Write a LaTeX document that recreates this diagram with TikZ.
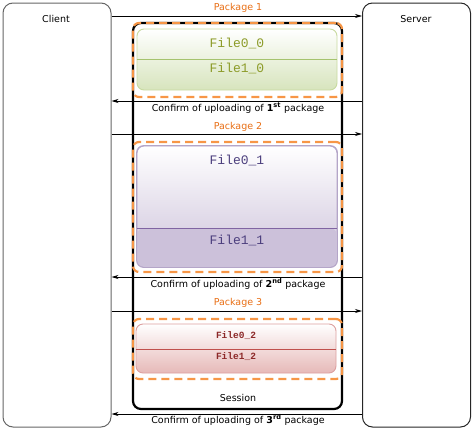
\documentclass[tikz,border=0pt]{standalone}
\usepackage{fontspec}
\setmainfont{DejaVu Sans}
\newfontfamily\monofont{Liberation Mono}
\usetikzlibrary{arrows}
\usetikzlibrary{arrows.meta}
\usetikzlibrary{calc}
\usetikzlibrary{positioning}

\definecolor{orangepk}{RGB}{247,150,70}
\definecolor{orangetxt}{RGB}{232,110,20}
\definecolor{vertbord}{RGB}{200,218,160}
\definecolor{vertfond}{RGB}{215,228,189}
\definecolor{vertligne}{RGB}{165,195,110}
\definecolor{verttxt}{RGB}{140,155,40}
\definecolor{violbord}{RGB}{180,165,200}
\definecolor{violfond}{RGB}{204,193,218}
\definecolor{violligne}{RGB}{128,100,162}
\definecolor{violtxt}{RGB}{75,62,125}
\definecolor{rougebord}{RGB}{220,160,160}
\definecolor{rougefond}{RGB}{230,185,184}
\definecolor{rougeligne}{RGB}{192,80,77}
\definecolor{rougetxt}{RGB}{140,40,40}

\tikzset{
  acteur/.style={draw, line width=1pt, rounded corners=10pt, minimum width=108pt, minimum height=424pt, inner sep=0pt},
  session/.style={draw, line width=2.2pt, rounded corners=8pt, minimum width=209pt, inner sep=0pt},
  paquet/.style={draw=orangepk, line width=2.2pt, dash pattern=on 8pt off 5pt, rounded corners=6pt, minimum width=209pt, inner sep=0pt},
  fichier/.style={rounded corners=7pt, minimum width=200pt, inner sep=0pt, line width=0.9pt, top color=white},
  fleche/.style={-{Stealth[length=7pt,width=4pt]}, line width=0.7pt},
  txt/.style={font=\fontsize{9.5}{11}\selectfont, inner sep=0pt},
  orangelbl/.style={txt, text=orangetxt},
  nomfich/.style={font=\monofont\fontsize{13}{14}\selectfont, inner sep=0pt},
}

\begin{document}
\begin{tikzpicture}[x=1pt,y=-1pt]
\useasboundingbox (0,0) rectangle (476,431);
% client et serveur
\node[acteur, draw=black!60] (client) at (57,215) {};
\node[acteur, draw=black!85] (server) at (416.5,215) {};
\node[txt] (clientlbl) at (56,19) {Client};
\node[txt] (serverlbl) at (416,19) {Server};
% session
\node[session, minimum height=386pt] (session) at (237.5,216) {};
\node[txt] (sessionlbl) at (238,398) {Session};
% fichiers
\node[fichier, draw=vertbord, bottom color=vertfond, minimum height=61pt] (box0) at (237,59.5) {};
\draw[vertligne, line width=0.9pt] (box0.west |- 0,59) -- (box0.east |- 0,59);
\node[nomfich, text=verttxt] (f00) at (237,43) {File0\_0};
\node[nomfich, text=verttxt] (f10) at (237,68) {File1\_0};
\node[fichier, draw=violbord, bottom color=violfond, minimum height=121pt] (box1) at (237,206.5) {};
\fill[violfond, rounded corners=7pt] ($(box1.south west)+(0.5,-0.5)$) rectangle ($(box1.east |- 0,228)+(-0.5,0)$);
\draw[violbord, line width=0.9pt, rounded corners=7pt] (box1.south west) rectangle (box1.north east);
\draw[violligne, line width=0.9pt] (box1.west |- 0,228) -- (box1.east |- 0,228);
\node[nomfich, text=violtxt] (f01) at (237,160) {File0\_1};
\node[nomfich, text=violtxt] (f11) at (237,240) {File1\_1};
\node[fichier, draw=rougebord, bottom color=rougefond, minimum height=49pt] (box2) at (236,348.5) {};
\draw[rougeligne, line width=0.9pt] (box2.west |- 0,349) -- (box2.east |- 0,349);
\node[nomfich, font=\monofont\bfseries\fontsize{9.5}{11}\selectfont, text=rougetxt] (f02) at (236,336) {File0\_2};
\node[nomfich, font=\monofont\bfseries\fontsize{9.5}{11}\selectfont, text=rougetxt] (f12) at (236,357) {File1\_2};
% paquets
\node[paquet, minimum height=74pt] (pk1) at (237.5,60) {};
\node[paquet, minimum height=130pt] (pk2) at (237.5,207) {};
\node[paquet, minimum height=60pt] (pk3) at (237.5,349) {};
% fleches
\coordinate (p1) at (0,16);
\coordinate (c1) at (0,101);
\coordinate (p2) at (0,134);
\coordinate (c2) at (0,277);
\coordinate (p3) at (0,311);
\coordinate (c3) at (0,414);
\draw[fleche] (client.east |- p1) -- (server.west |- p1);
\draw[fleche] (server.west |- c1) -- (client.east |- c1);
\draw[fleche] (client.east |- p2) -- (server.west |- p2);
\draw[fleche] (server.west |- c2) -- (client.east |- c2);
\draw[fleche] (client.east |- p3) -- (server.west |- p3);
\draw[fleche] (server.west |- c3) -- (client.east |- c3);
\node[orangelbl] (pk1lbl) at (238,8) {Package 1};
\node[orangelbl] (pk2lbl) at (238,127) {Package 2};
\node[orangelbl] (pk3lbl) at (238,303) {Package 3};
\node[txt] (c1lbl) at (238,108) {Confirm of uploading of \textbf{1\textsuperscript{st}} package};
\node[txt] (c2lbl) at (238,284) {Confirm of uploading of \textbf{2\textsuperscript{nd}} package};
\node[txt] (c3lbl) at (238,420) {Confirm of uploading of \textbf{3\textsuperscript{rd}} package};
\end{tikzpicture}
\end{document}
